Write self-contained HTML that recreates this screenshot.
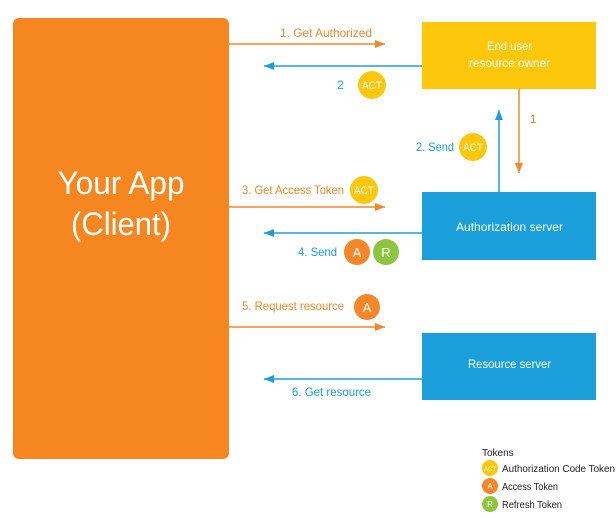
<!DOCTYPE html>
<html><head><meta charset="utf-8"><style>
html,body{margin:0;padding:0;background:#fff;}
svg text{font-family:"Liberation Sans",sans-serif;}
</style></head><body>
<svg width="616" height="513" viewBox="0 0 616 513" xmlns="http://www.w3.org/2000/svg">
<defs>
<marker id="ao" markerWidth="10" markerHeight="8" refX="10" refY="4" orient="auto" markerUnits="userSpaceOnUse"><path d="M0,0 L10,4 L0,8 Z" fill="#f5862a"/></marker>
<marker id="ab" markerWidth="10" markerHeight="8" refX="10" refY="4" orient="auto" markerUnits="userSpaceOnUse"><path d="M0,0 L10,4 L0,8 Z" fill="#1b9fdc"/></marker>
</defs>
<rect x="13" y="18" width="216" height="441" rx="6" fill="#f58620"/>
<text x="121" y="194" font-size="32" fill="#fff" text-anchor="middle" textLength="127" lengthAdjust="spacingAndGlyphs">Your App</text>
<text x="121" y="235" font-size="32" fill="#fff" text-anchor="middle" textLength="100" lengthAdjust="spacingAndGlyphs">(Client)</text>

<rect x="422" y="22" width="174" height="67" fill="#fdc70c"/>
<text x="487" y="50" font-size="12" fill="#fff" textLength="45" lengthAdjust="spacingAndGlyphs">End user</text>
<text x="469" y="67" font-size="12" fill="#fff" textLength="81" lengthAdjust="spacingAndGlyphs">resource owner</text>
<rect x="422" y="192" width="174" height="68" fill="#1a9fdb"/>
<text x="456" y="231" font-size="12" fill="#fff" textLength="107" lengthAdjust="spacingAndGlyphs">Authorization server</text>
<rect x="422" y="333" width="174" height="67" fill="#1a9fdb"/>
<text x="468" y="368" font-size="12" fill="#fff" textLength="83" lengthAdjust="spacingAndGlyphs">Resource server</text>

<g stroke-width="1.5" fill="none">
<line x1="229" y1="44" x2="385" y2="44" stroke="#f5862a" marker-end="url(#ao)"/>
<line x1="422" y1="66" x2="264" y2="66" stroke="#1b9fdc" marker-end="url(#ab)"/>
<line x1="499" y1="192" x2="499" y2="110" stroke="#1b9fdc" marker-end="url(#ab)"/>
<line x1="519" y1="89" x2="519" y2="173" stroke="#f5862a" marker-end="url(#ao)"/>
<line x1="229" y1="207" x2="385" y2="207" stroke="#f5862a" marker-end="url(#ao)"/>
<line x1="422" y1="233" x2="264" y2="233" stroke="#1b9fdc" marker-end="url(#ab)"/>
<line x1="229" y1="327" x2="385" y2="327" stroke="#f5862a" marker-end="url(#ao)"/>
<line x1="422" y1="379" x2="264" y2="379" stroke="#1b9fdc" marker-end="url(#ab)"/>
</g>
<g font-size="12" lengthAdjust="spacingAndGlyphs">
<text x="280" y="37" fill="#f5862a" textLength="92" lengthAdjust="spacingAndGlyphs">1. Get Authorized</text>
<text x="337" y="89" fill="#1b9fdc">2</text>
<text x="530" y="123" fill="#f5862a">1</text>
<text x="416" y="151" fill="#1b9fdc" textLength="38" lengthAdjust="spacingAndGlyphs">2. Send</text>
<text x="242" y="194" fill="#f5862a" textLength="102" lengthAdjust="spacingAndGlyphs">3. Get Access Token</text>
<text x="298" y="256" fill="#1b9fdc" textLength="39" lengthAdjust="spacingAndGlyphs">4. Send</text>
<text x="242" y="310" fill="#f5862a" textLength="102" lengthAdjust="spacingAndGlyphs">5. Request resource</text>
<text x="292" y="396" fill="#1b9fdc" textLength="79" lengthAdjust="spacingAndGlyphs">6. Get resource</text>
</g>
<g font-size="11" fill="#fff" text-anchor="middle">
<circle cx="372" cy="85" r="14" fill="#fdc70c"/><text x="372" y="89" textLength="20" lengthAdjust="spacingAndGlyphs">ACT</text>
<circle cx="473" cy="147" r="14" fill="#fdc70c"/><text x="473" y="151" textLength="20" lengthAdjust="spacingAndGlyphs">ACT</text>
<circle cx="364" cy="190" r="14" fill="#fdc70c"/><text x="364" y="194" textLength="20" lengthAdjust="spacingAndGlyphs">ACT</text>
<circle cx="357" cy="252" r="13" fill="#f5862a"/><text x="357" y="257" font-size="13">A</text>
<circle cx="386" cy="252" r="13" fill="#8cc63f"/><text x="386" y="257" font-size="13">R</text>
<circle cx="367" cy="307" r="13" fill="#f5862a"/><text x="367" y="312" font-size="13">A</text>
</g>
<text x="482" y="456" font-size="10" fill="#222">Tokens</text>
<circle cx="490" cy="468" r="8" fill="#fdc70c"/><text x="490" y="471" font-size="6" fill="#fff" text-anchor="middle">ACT</text>
<circle cx="490" cy="486" r="8" fill="#f5862a"/><text x="490" y="489" font-size="8" fill="#fff" text-anchor="middle">A</text>
<circle cx="490" cy="504" r="8" fill="#8cc63f"/><text x="490" y="507" font-size="8" fill="#fff" text-anchor="middle">R</text>
<g font-size="10" fill="#222">
<text x="502" y="472" textLength="113" lengthAdjust="spacingAndGlyphs">Authorization Code Token</text>
<text x="502" y="490" textLength="56" lengthAdjust="spacingAndGlyphs">Access Token</text>
<text x="502" y="508" textLength="60" lengthAdjust="spacingAndGlyphs">Refresh Token</text>
</g>
</svg>
</body></html>
